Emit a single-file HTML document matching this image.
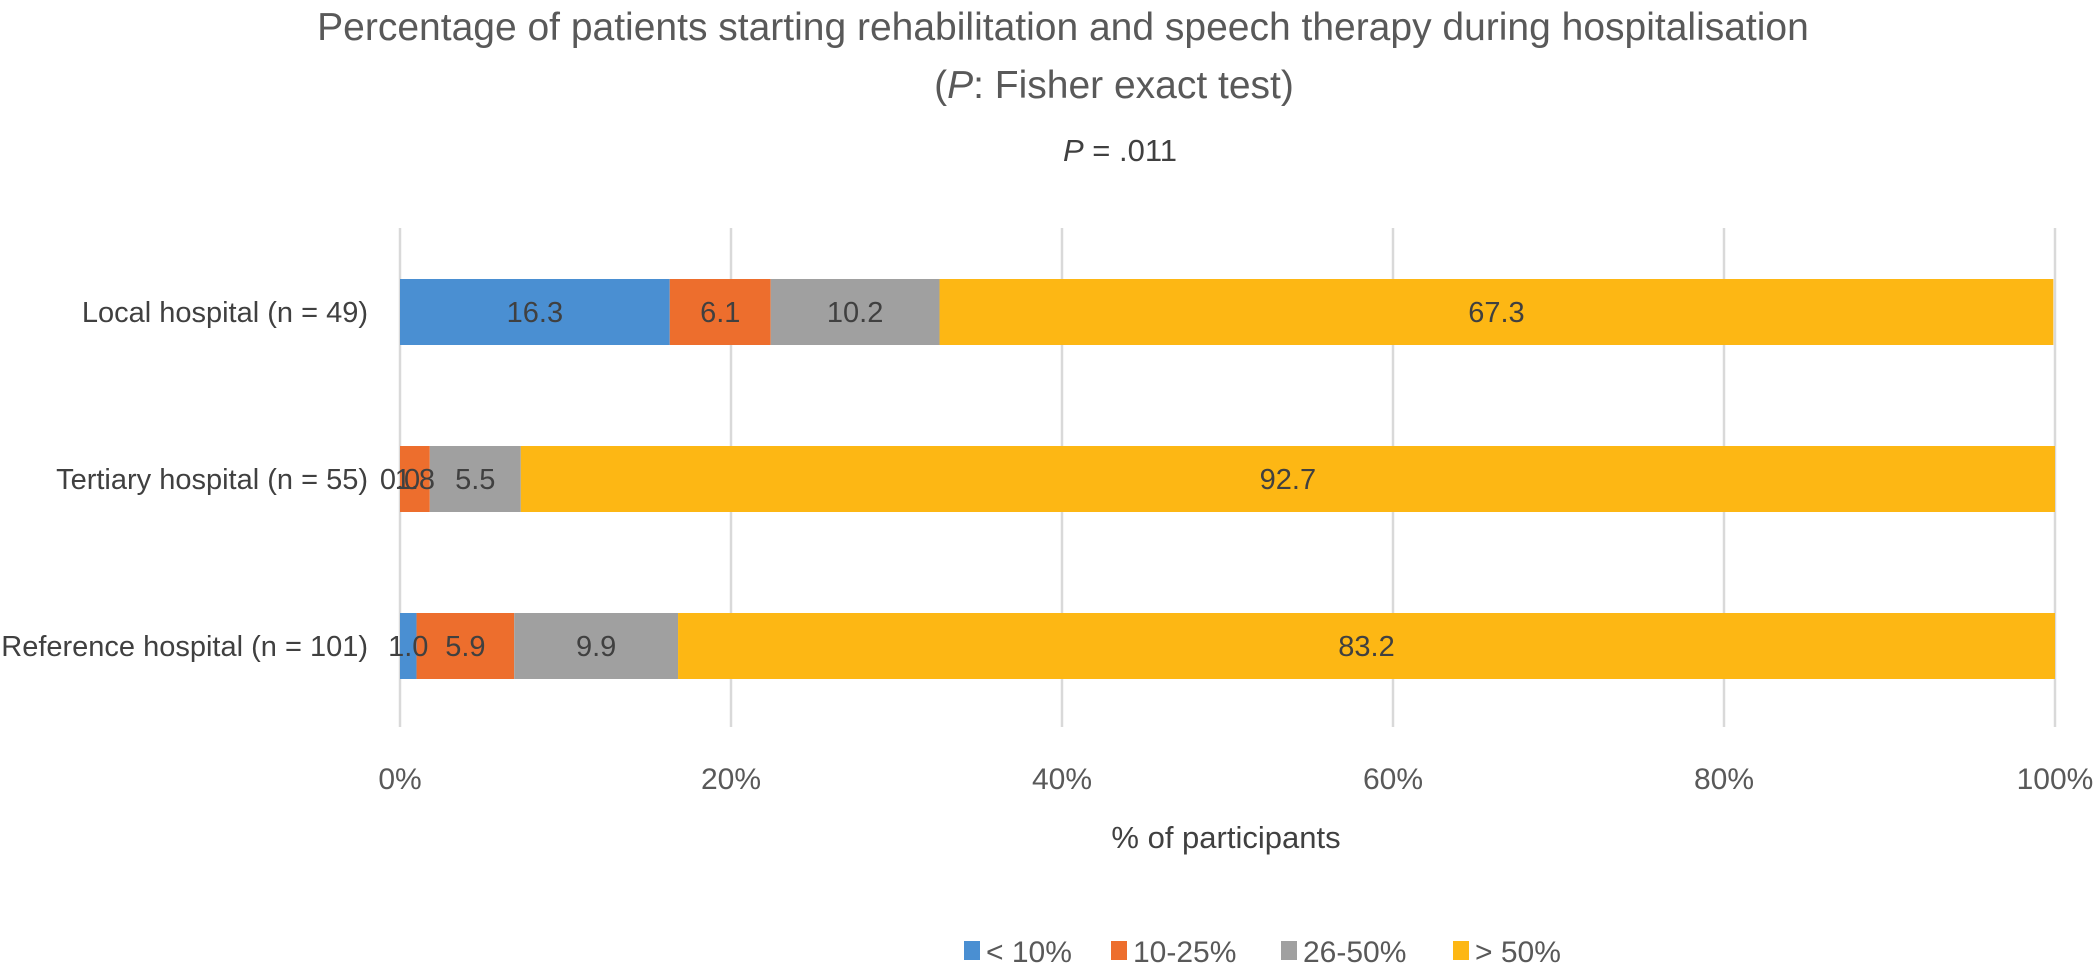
<!DOCTYPE html>
<html><head><meta charset="utf-8"><style>
body{margin:0;background:#fff;}
svg{display:block;font-family:"Liberation Sans",sans-serif;}
</style></head><body>
<svg id="chart" width="2099" height="970">
<text x="1063" y="40" text-anchor="middle" font-size="39" fill="#595959">Percentage of patients starting rehabilitation and speech therapy during hospitalisation</text>
<text x="1114" y="98" text-anchor="middle" font-size="39" fill="#595959">(<tspan font-style="italic">P</tspan>: Fisher exact test)</text>
<text x="1120" y="161" text-anchor="middle" font-size="31" fill="#404040"><tspan font-style="italic">P</tspan> = .011</text>
<g id="grid"></g><g id="bars"></g><g id="labels"></g><g id="legend"></g>
<text x="1226" y="848" text-anchor="middle" font-size="31" fill="#404040">% of participants</text>
</svg>
<script>
const categories = ["Local hospital (n = 49)", "Tertiary hospital (n = 55)", "Reference hospital (n = 101)"];
const seriesNames = ["< 10%", "10-25%", "26-50%", "> 50%"];
const lt10 = [16.3, 0.0, 1.0];
const s10to25 = [6.1, 1.8, 5.9];
const s26to50 = [10.2, 5.5, 9.9];
const gt50 = [67.3, 92.7, 83.2];
const ticks = [0, 20, 40, 60, 80, 100];
const colors = ["#4a8fd2", "#ed6e2d", "#a0a0a0", "#fdb714"];
const series = [lt10, s10to25, s26to50, gt50];
const NS = "http://www.w3.org/2000/svg";
const x0 = 400, x1 = 2055;
const xs = v => x0 + (x1 - x0) * v / 100;
const barTop = [279, 446, 613], barH = 66;
function mk(tag, attrs, parent) { const e = document.createElementNS(NS, tag); for (const k in attrs) e.setAttribute(k, attrs[k]); parent.appendChild(e); return e; }
const grid = document.getElementById('grid');
ticks.forEach(t => {
  const l = mk('line', {x1: xs(t), x2: xs(t), y1: 228, y2: 727, stroke: '#d9d9d9', 'stroke-width': 2.5}, grid);
  
  
  const tx = mk('text', {x: xs(t), y: 789, 'text-anchor': 'middle', 'font-size': 30, fill: '#595959'}, grid);
  tx.textContent = t + '%';
  
  
});
const bars = document.getElementById('bars'), labels = document.getElementById('labels');
categories.forEach((c, i) => {
  const yl = mk('text', {x: 368, y: barTop[i] + barH / 2 + 10, 'text-anchor': 'end', 'font-size': 29, fill: '#404040'}, labels);
  yl.textContent = c;
  
  
  let acc = 0;
  series.forEach((s, j) => {
    const v = s[i];
    const r = mk('rect', {x: xs(acc), y: barTop[i], width: xs(acc + v) - xs(acc), height: barH, fill: colors[j]}, bars);
    
    
    const t = mk('text', {x: xs(acc + v / 2), y: barTop[i] + barH / 2 + 10, 'text-anchor': 'middle', 'font-size': 29, fill: '#404040'}, labels);
    t.textContent = v.toFixed(1);
    
    
    acc += v;
  });
});
const legend = document.getElementById('legend');
const legX = [964, 1111, 1281, 1453];
seriesNames.forEach((n, j) => {
  const r = mk('rect', {x: legX[j], y: 941, width: 16, height: 19, fill: colors[j]}, legend);
  
  
  const t = mk('text', {x: legX[j] + 22, y: 962, 'font-size': 30, fill: '#595959'}, legend);
  t.textContent = n;
  
  
});
</script>
</body></html>
